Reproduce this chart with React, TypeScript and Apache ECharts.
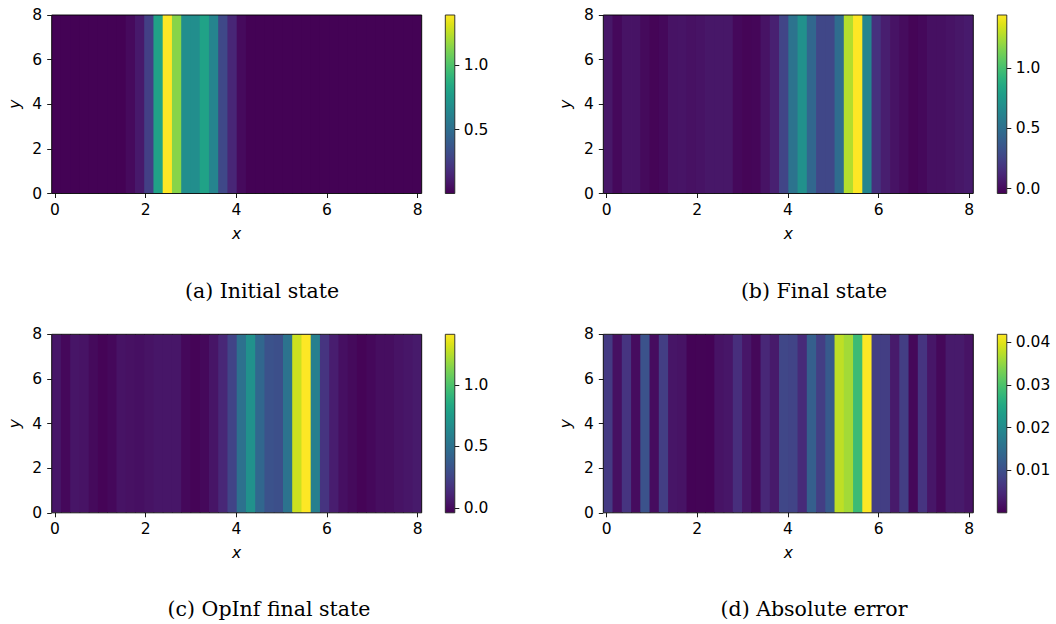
import React, { useEffect, useRef } from "react";
import * as echarts from "echarts";

// ---- data ----
const N_CELLS = 40;
const X_MIN = -0.073;
const X_MAX = 8.088;
const Y_MIN = 0;
const Y_MAX = 8;
const X_TICKS = [0, 2, 4, 6, 8];
const Y_TICKS = [0, 2, 4, 6, 8];

const initialState = [
  0.01, 0.01, 0.01, 0.01, 0.01, 0.01, 0.01, 0.01,
  0.04, 0.1, 0.26, 0.8, 1.39, 1.14, 0.68, 0.68, 0.8, 0.63, 0.3, 0.15, 0.04,
  0.01, 0.01, 0.01, 0.01, 0.01, 0.01, 0.01, 0.01, 0.01, 0.01,
  0.01, 0.01, 0.01, 0.01, 0.01, 0.01, 0.01, 0.01, 0.01,
];

const finalState = [
  0.05, -0.01, 0.035, 0.035, -0.005, -0.025, -0.01, 0.035, 0.04, 0.025,
  0.035, 0.05, 0.05, 0.05, -0.01, -0.025, -0.02, 0.035, 0.09, 0.26,
  0.52, 0.7, 0.45, 0.27, 0.27, 0.48, 1.27, 1.44, 0.64, 0.17,
  0.08, 0.035, 0.005, -0.025, -0.01, 0.02, 0.02, 0.035, 0.05, 0.065,
];

const opinfState = [
  0.049, -0.009, 0.042, 0.034, -0.002, -0.024, -0.009, 0.034, 0.027, 0.02,
  0.034, 0.049, 0.049, 0.049, -0.009, -0.024, -0.009, 0.042, 0.121, 0.252,
  0.498, 0.686, 0.44, 0.324, 0.31, 0.512, 1.294, 1.41, 0.585, 0.179,
  0.078, 0.02, -0.002, -0.024, -0.009, 0.013, 0.013, 0.034, 0.049, 0.063,
];

const absError = [
  0.0071, 0.0017, 0.0063, 0.0013, 0.0105, 0.0013, 0.0076, 0.0023, 0.0021, 0.0002,
  0.0003, 0.0002, 0.0021, 0.0025, 0.0055, 0.0025, 0.0008, 0.0046, 0.0029, 0.0088,
  0.0084, 0.005, 0.0126, 0.0076, 0.0118, 0.0378, 0.0361, 0.0286, 0.0419, 0.0076,
  0.0076, 0.0029, 0.0076, 0.0008, 0.0063, 0.0025, 0.0008, 0.0029, 0.0029, 0.0021,
];

const ranges = [
  [0.005, 1.39],
  [-0.04, 1.44],
  [-0.038, 1.41],
  [0.0, 0.0419],
];
const cbTicks = [
  [0.5, 1.0],
  [0.0, 0.5, 1.0],
  [0.0, 0.5, 1.0],
  [0.01, 0.02, 0.03, 0.04],
];
const cbDecimals = [1, 1, 1, 2];
const captions = [
  "(a) Initial state",
  "(b) Final state",
  "(c) OpInf final state",
  "(d) Absolute error",
];

const VIRIDIS = [
  "#440154", "#471365", "#482475", "#463480", "#414487", "#3b528b", "#355f8d",
  "#2f6c8e", "#2a788e", "#25848e", "#21918c", "#1e9c89", "#22a884", "#2fb47c",
  "#44bf70", "#5ec962", "#7ad151", "#9bd93c", "#bddf26", "#dfe318", "#fde725",
];

// ---- layout ----
const PLOT_W = 370;
const PLOT_H = 178.5;
const CB_W = 9.5;
const layout = [
  { left: 51.7, top: 15, cbLeft: 445.3, capX: 262, capY: 291 },
  { left: 603.3, top: 15, cbLeft: 997.3, capX: 814, capY: 291 },
  { left: 51.7, top: 334.3, cbLeft: 445.3, capX: 269, capY: 609 },
  { left: 603.3, top: 334.3, cbLeft: 997.3, capX: 814, capY: 609 },
];

const FONT = "DejaVu Sans";
const FS = 15.5;

export default function App() {
  const ref = useRef<HTMLDivElement>(null);

  useEffect(() => {
    if (!ref.current) return;
    const chart = echarts.init(ref.current, undefined, { renderer: "svg" });
    const panels = [initialState, finalState, opinfState, absError];
    const step = (X_MAX - X_MIN) / N_CELLS;

    const grids: any[] = [];
    const xAxes: any[] = [];
    const yAxes: any[] = [];
    const series: any[] = [];
    const visualMaps: any[] = [];
    const graphics: any[] = [];

    const tickStyle = { show: true, length: 4.5, lineStyle: { color: "#000", width: 0.9 } };
    const labelStyle = { fontFamily: FONT, fontSize: FS, color: "#000" };
    const nameStyle = { fontFamily: FONT, fontStyle: "italic", fontSize: FS, color: "#000" };

    panels.forEach((vals, i) => {
      const L = layout[i];
      grids.push({
        left: L.left, top: L.top, width: PLOT_W, height: PLOT_H,
        show: true, z: 10, backgroundColor: "transparent", borderColor: "#000", borderWidth: 0.9,
      });
      xAxes.push({
        type: "value", gridIndex: i, min: X_MIN, max: X_MAX,
        axisLine: { show: false, onZero: false },
        axisTick: { ...tickStyle, customValues: X_TICKS },
        axisLabel: { ...labelStyle, margin: 8, customValues: X_TICKS },
        splitLine: { show: false },
        name: "x", nameLocation: "middle", nameGap: 32,
        nameTextStyle: nameStyle,
      });
      yAxes.push({
        type: "value", gridIndex: i, min: Y_MIN, max: Y_MAX,
        axisLine: { show: false, onZero: false },
        axisTick: { ...tickStyle, customValues: Y_TICKS },
        axisLabel: { ...labelStyle, margin: 9.5, customValues: Y_TICKS },
        splitLine: { show: false },
        name: "y", nameLocation: "middle", nameGap: 29, nameRotate: 90,
        nameTextStyle: nameStyle,
      });
      series.push({
        type: "custom",
        xAxisIndex: i, yAxisIndex: i,
        data: vals.map((v, k) => [X_MIN + k * step, X_MIN + (k + 1) * step, v]),
        encode: { x: [0, 1] },
        clip: true,
        renderItem: (params: any, api: any) => {
          const p0 = api.coord([api.value(0), Y_MAX]);
          const p1 = api.coord([api.value(1), Y_MIN]);
          const last = params.dataIndex === N_CELLS - 1;
          const c = api.visual("color");
          return {
            type: "rect",
            shape: {
              x: p0[0], y: p0[1],
              width: p1[0] - p0[0] + (last ? 0 : 0.8),
              height: p1[1] - p0[1],
            },
            style: { fill: c },
          };
        },
      });
      visualMaps.push({
        type: "continuous", show: false, seriesIndex: i, dimension: 2,
        min: ranges[i][0], max: ranges[i][1], inRange: { color: VIRIDIS },
      });
      graphics.push({
        type: "text", x: L.capX, y: L.capY,
        style: {
          text: captions[i], align: "center", verticalAlign: "middle",
          textAlign: "center", textVerticalAlign: "middle",
          fontFamily: "DejaVu Serif", fontSize: 20.5, fill: "#000",
        },
      });
    });

    panels.forEach((_, i) => {
      const L = layout[i];
      const gi = 4 + i;
      const [vmin, vmax] = ranges[i];
      grids.push({
        left: L.cbLeft, top: L.top, width: CB_W, height: PLOT_H,
        show: true, z: 10, backgroundColor: "transparent", borderColor: "#222", borderWidth: 0.9,
      });
      xAxes.push({ type: "value", gridIndex: gi, min: 0, max: 1, show: false });
      yAxes.push({
        type: "value", gridIndex: gi, min: vmin, max: vmax, position: "right",
        axisLine: { show: false, onZero: false },
        axisTick: { ...tickStyle, customValues: cbTicks[i] },
        axisLabel: {
          ...labelStyle, margin: 9, customValues: cbTicks[i],
          formatter: (v: number) => v.toFixed(cbDecimals[i]),
        },
        splitLine: { show: false },
      });
      series.push({
        type: "custom",
        xAxisIndex: gi, yAxisIndex: gi,
        data: [[0, 1, vmin, vmax]],
        encode: { x: [0, 1], y: [2, 3] },
        renderItem: (params: any, api: any) => {
          const p0 = api.coord([api.value(0), api.value(3)]);
          const p1 = api.coord([api.value(1), api.value(2)]);
          return {
            type: "rect",
            shape: { x: p0[0], y: p0[1], width: p1[0] - p0[0], height: p1[1] - p0[1] },
            style: {
              fill: new echarts.graphic.LinearGradient(
                0, 1, 0, 0,
                VIRIDIS.map((c, k) => ({ offset: k / (VIRIDIS.length - 1), color: c }))
              ),
            },
          };
        },
      });
    });

    chart.setOption({
      animation: false,
      backgroundColor: "#fff",
      grid: grids,
      xAxis: xAxes,
      yAxis: yAxes,
      visualMap: visualMaps,
      series,
      graphic: graphics,
    });

    return () => chart.dispose();
  }, []);

  return (
    <div
      ref={ref}
      style={{ position: "fixed", left: 0, top: 0, width: 1056, height: 624, background: "#fff" }}
    />
  );
}
